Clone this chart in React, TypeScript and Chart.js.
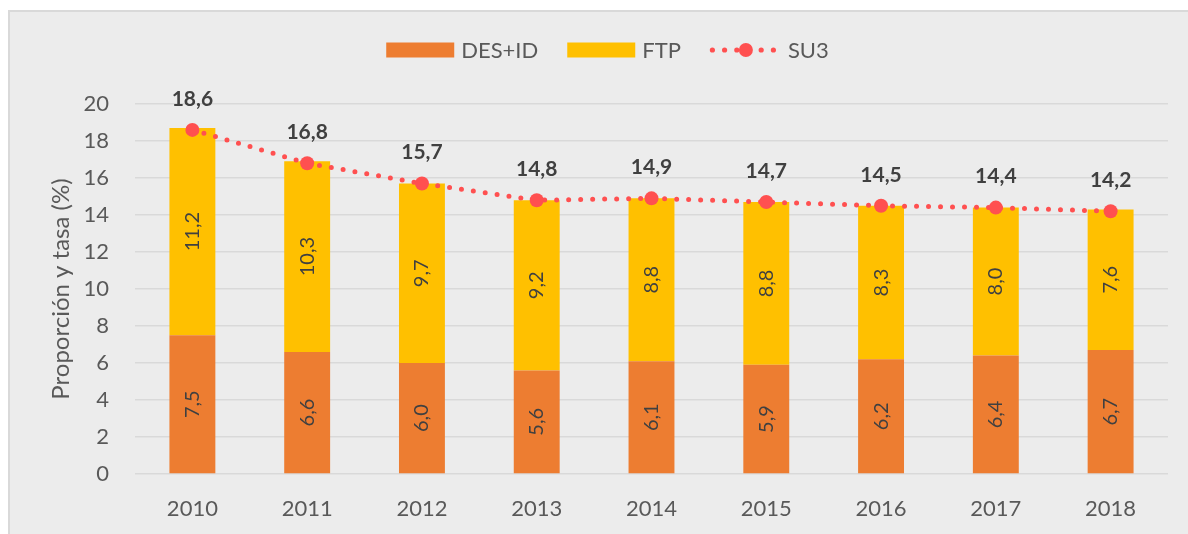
import React, { useEffect, useRef } from "react";
import { Chart, registerables } from "chart.js";

Chart.register(...registerables);

const years = ["2010", "2011", "2012", "2013", "2014", "2015", "2016", "2017", "2018"];
const desId = [7.5, 6.6, 6.0, 5.6, 6.1, 5.9, 6.2, 6.4, 6.7];
const ftp = [11.2, 10.3, 9.7, 9.2, 8.8, 8.8, 8.3, 8.0, 7.6];
const su3 = [18.6, 16.8, 15.7, 14.8, 14.9, 14.7, 14.5, 14.4, 14.2];
const legendLabels = ["DES+ID", "FTP", "SU3"];
const yTitle = "Proporción y tasa (%)";
const yMin = 0;
const yMax = 20;
const yStep = 2;

const ORANGE = "#ED7D31";
const YELLOW = "#FFC000";
const RED = "#FF5050";
const TEXT = "#595959";
const LABEL = "#404040";
const GRID = "#D9D9D9";
const FONT = "Lato, 'Open Sans', sans-serif";

const fmt = (v: number) => v.toFixed(1).replace(".", ",");

const W = 1195;
const H = 522;

const valueLabels = {
  id: "valueLabels",
  afterDatasetsDraw(chart: any) {
    const ctx = chart.ctx;
    const series = [desId, ftp];
    ctx.save();
    ctx.textAlign = "center";
    ctx.textBaseline = "middle";
    series.forEach((vals, di) => {
      const meta = chart.getDatasetMeta(di);
      meta.data.forEach((bar: any, i: number) => {
        const p = bar.getProps(["x", "y", "base"], true);
        const cy = (p.y + p.base) / 2;
        ctx.save();
        ctx.translate(p.x, cy);
        ctx.rotate(-Math.PI / 2);
        ctx.font = `20px ${FONT}`;
        ctx.fillStyle = LABEL;
        ctx.fillText(fmt(vals[i]), 0, 0);
        ctx.restore();
      });
    });
    const lm = chart.getDatasetMeta(2);
    lm.data.forEach((pt: any, i: number) => {
      ctx.font = `bold 21px ${FONT}`;
      ctx.fillStyle = LABEL;
      ctx.fillText(fmt(su3[i]), pt.x, pt.y - 31);
    });
    ctx.restore();
  },
};

const customLegend = {
  id: "customLegend",
  afterDraw(chart: any) {
    const ctx = chart.ctx;
    ctx.save();
    ctx.font = `22px ${FONT}`;
    ctx.textBaseline = "middle";
    ctx.textAlign = "left";
    const boxW = 68;
    const boxH = 15;
    const symW = 66;
    const gapText = 7;
    const gapSym = 12;
    const gapItem = 29;
    const widths = legendLabels.map((t, i) =>
      (i < 2 ? boxW + gapText : symW + gapSym) + ctx.measureText(t).width
    );
    const total = widths.reduce((a, b) => a + b, 0) + gapItem * (legendLabels.length - 1);
    let x = chart.width / 2 - total / 2;
    const cy = 38;
    legendLabels.forEach((t, i) => {
      if (i < 2) {
        ctx.fillStyle = i === 0 ? ORANGE : YELLOW;
        ctx.fillRect(x, cy - boxH / 2, boxW, boxH);
        ctx.fillStyle = TEXT;
        ctx.fillText(t, x + boxW + gapText, cy + 1);
      } else {
        ctx.fillStyle = RED;
        for (let k = 0; k < 6; k++) {
          const dx = x + 2.5 + k * 12.2;
          ctx.beginPath();
          ctx.arc(dx, cy, 2.6, 0, Math.PI * 2);
          ctx.fill();
        }
        ctx.beginPath();
        ctx.arc(x + symW / 2 + 3, cy, 7, 0, Math.PI * 2);
        ctx.fill();
        ctx.fillStyle = TEXT;
        ctx.fillText(t, x + symW + gapSym, cy + 1);
      }
      x += widths[i] + gapItem;
    });
    ctx.restore();
  },
};

export default function App() {
  const ref = useRef<HTMLCanvasElement | null>(null);

  useEffect(() => {
    if (!ref.current) return;
    const chart = new Chart(ref.current, {
      type: "bar",
      data: {
        labels: years,
        datasets: [
          {
            type: "bar",
            label: legendLabels[0],
            data: desId,
            backgroundColor: ORANGE,
            borderWidth: 0,
            stack: "bars",
            order: 1,
            categoryPercentage: 1,
            barPercentage: 0.4,
          },
          {
            type: "bar",
            label: legendLabels[1],
            data: ftp,
            backgroundColor: YELLOW,
            borderWidth: 0,
            stack: "bars",
            order: 1,
            categoryPercentage: 1,
            barPercentage: 0.4,
          },
          {
            type: "line",
            label: legendLabels[2],
            data: su3,
            borderColor: RED,
            backgroundColor: RED,
            borderWidth: 5,
            borderDash: [0, 12],
            borderCapStyle: "round",
            pointRadius: 7,
            pointBackgroundColor: RED,
            pointBorderWidth: 0,
            tension: 0,
            fill: false,
            stack: "line",
            order: 0,
          } as any,
        ],
      },
      options: {
        responsive: false,
        animation: false,
        layout: { padding: { left: 37, right: 37, top: 92, bottom: 0 } },
        plugins: {
          legend: { display: false },
          tooltip: { enabled: false },
          title: { display: false },
        },
        scales: {
          x: {
            stacked: true,
            grid: { display: false, drawTicks: false },
            border: { display: false },
            ticks: {
              color: TEXT,
              font: { family: FONT, size: 22 },
              padding: 22,
              maxRotation: 0,
            },
            afterFit: (s: any) => {
              s.height = 60;
            },
          },
          y: {
            stacked: true,
            min: yMin,
            max: yMax,
            grid: { color: GRID, lineWidth: 1.5, drawTicks: false },
            border: { display: false },
            ticks: {
              stepSize: yStep,
              color: TEXT,
              font: { family: FONT, size: 22 },
              padding: 26,
            },
            title: {
              display: true,
              text: yTitle,
              color: TEXT,
              font: { family: FONT, size: 24 },
              padding: { top: 0, bottom: 0 },
            },
            afterFit: (s: any) => {
              s.width = 88;
            },
          },
        },
      },
      plugins: [valueLabels, customLegend],
    });
    return () => chart.destroy();
  }, []);

  return (
    <div
      style={{
        position: "fixed",
        left: 0,
        top: 0,
        width: 1188,
        height: 534,
        overflow: "hidden",
        background: "#ffffff",
      }}
    >
      <div
        style={{
          position: "absolute",
          left: 8,
          top: 10,
          width: 1200,
          height: 540,
          border: "2px solid #D9D9D9",
          background: "#ECECEC",
          boxSizing: "border-box",
        }}
      >
        <canvas
          ref={ref}
          width={W}
          height={H}
          style={{ position: "absolute", left: 0, top: 0, width: W, height: H }}
        />
      </div>
    </div>
  );
}
